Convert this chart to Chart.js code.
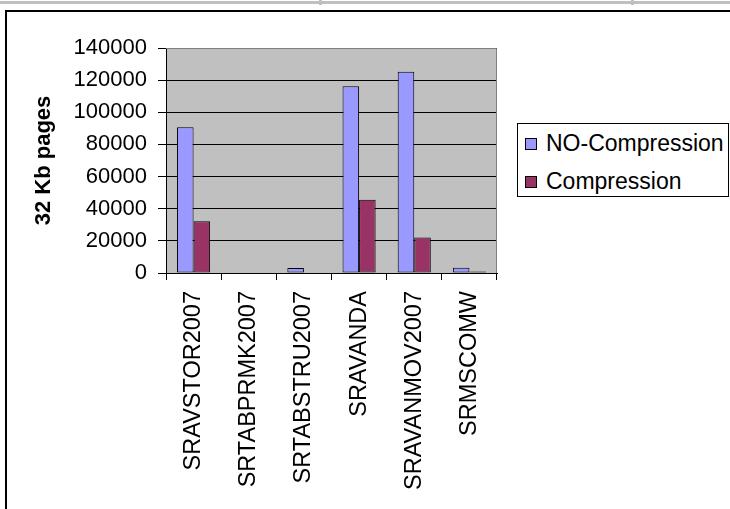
<!DOCTYPE html>
<html>
<head>
<meta charset="utf-8">
<script src="https://cdn.jsdelivr.net/npm/chart.js@4/dist/chart.umd.min.js"></script>
<style>
  body { margin: 0; background: #fff; font-family: "Liberation Sans", Arial, sans-serif; }
  #wrap { position: relative; width: 730px; height: 509px; overflow: hidden; }
  #topline { position: absolute; left: 0; top: 1px; width: 730px; height: 3px; background: #c0c0c0; }
  .mark { position: absolute; top: 0; width: 3px; height: 5px; background: #c0c0c0; }
  #frame { position: absolute; left: 5px; top: 10px; width: 740px; height: 520px; border: 2px solid #000; box-sizing: border-box; }
  #chart { position: absolute; left: 0; top: 0; }
  #legend { position: absolute; left: 517px; top: 123px; width: 212px; height: 74px; border: 1px solid #000; box-sizing: border-box; background: #fff; }
  .item { position: absolute; left: 7px; font-size: 23px; line-height: 24px; color: #000; white-space: nowrap; }
  .sw { display: inline-block; width: 10px; height: 10px; border: 1px solid #000; margin-right: 9px; vertical-align: 1px; }
</style>
</head>
<body>
<div id="wrap">
  <div id="topline"></div>
  <div class="mark" style="left:319px"></div>
  <div class="mark" style="left:631px"></div>
  <div id="frame"></div>
  <canvas id="chart" width="730" height="509"></canvas>
  <div id="legend">
    <div class="item" style="top:7px"><span class="sw" style="background:#9999ff"></span>NO-Compression</div>
    <div class="item" style="top:45px"><span class="sw" style="background:#993366"></span>Compression</div>
  </div>
</div>
<script>
var categories = ['SRAVSTOR2007', 'SRTABPRMK2007', 'SRTABSTRU2007', 'SRAVANDA', 'SRAVANMOV2007', 'SRMSCOMW'];
var noCompression = [90700, 0, 3100, 116200, 125200, 3300];
var compression = [32200, 0, 0, 45600, 22100, 1000];
var yTicks = [0, 20000, 40000, 60000, 80000, 100000, 120000, 140000];

var plotBg = {
  id: 'plotBg',
  beforeDraw: function(chart) {
    var a = chart.chartArea, ctx = chart.ctx;
    ctx.save();
    ctx.fillStyle = '#c0c0c0';
    ctx.fillRect(a.left, a.top, a.right - a.left, a.bottom - a.top);
    ctx.restore();
  },
  afterDraw: function(chart) {
    var a = chart.ctx, r = chart.chartArea;
    a.save();
    a.strokeStyle = '#808080';
    a.lineWidth = 1;
    a.beginPath();
    a.moveTo(r.left, r.top + 0.5);
    a.lineTo(r.right - 0.5, r.top + 0.5);
    a.lineTo(r.right - 0.5, r.bottom);
    a.stroke();
    a.restore();
  }
};

new Chart(document.getElementById('chart').getContext('2d'), {
  type: 'bar',
  data: {
    labels: categories,
    datasets: [{
      label: 'NO-Compression',
      data: noCompression,
      backgroundColor: '#9999ff',
      borderColor: '#000',
      borderWidth: 1,
      borderSkipped: false
    }, {
      label: 'Compression',
      data: compression,
      backgroundColor: '#993366',
      borderColor: '#000',
      borderWidth: 1,
      borderSkipped: false
    }]
  },
  options: {
    responsive: false,
    animation: false,
    categoryPercentage: 0.6,
    barPercentage: 1,
    layout: { padding: { left: 0, top: 48, right: 233, bottom: 0 } },
    plugins: { legend: { display: false }, tooltip: { enabled: false } },
    scales: {
      x: {
        afterFit: function(s) { s.height = 236; },
        grid: { display: true, drawOnChartArea: false, offset: true, tickLength: 7, color: '#000' },
        border: { color: '#000' },
        ticks: {
          autoSkip: false, minRotation: 90, maxRotation: 90, padding: 11,
          color: '#000', font: { family: '"Liberation Sans", Arial', size: 23.5 }
        }
      },
      y: {
        min: 0, max: 140000,
        afterFit: function(s) { s.width = 166; },
        afterBuildTicks: function(s) { s.ticks = yTicks.map(function(v) { return { value: v }; }); },
        grid: { color: '#000', tickLength: 8 },
        border: { color: '#000' },
        ticks: {
          padding: 11, color: '#000',
          font: { family: '"Liberation Sans", Arial', size: 22 },
          callback: function(v) { return String(v); }
        },
        title: {
          display: true, text: '32 Kb pages', color: '#000',
          padding: { top: 31 },
          font: { family: '"Liberation Sans", Arial', size: 22, weight: 'bold' }
        }
      }
    }
  },
  plugins: [plotBg]
});
</script>
</body>
</html>
